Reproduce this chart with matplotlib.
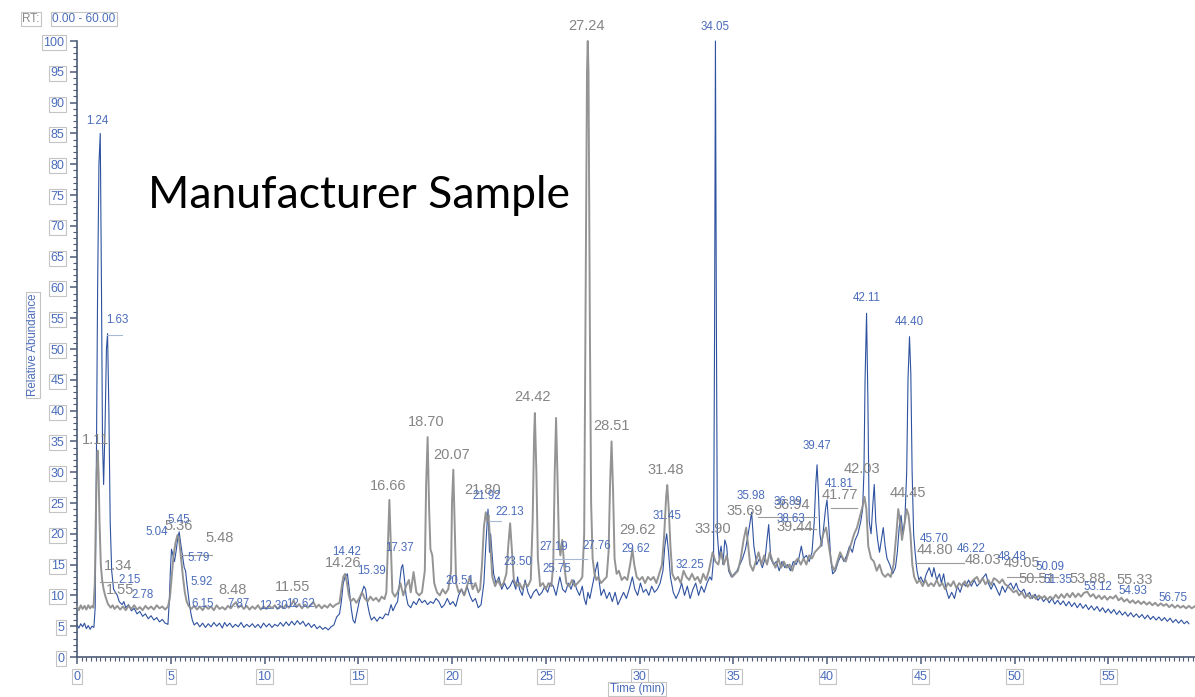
import matplotlib
matplotlib.use("Agg")
import matplotlib.pyplot as plt
import numpy as np
from matplotlib.ticker import MultipleLocator

# ---- data (time in min, relative abundance) ----
gray_trace = [
    (0.0, 8.2), (0.1, 7.6), (0.2, 8.4), (0.3, 7.8), (0.4, 8.3), (0.5, 7.7), (0.6, 8.4), (0.7, 7.9),
    (0.8, 8.3), (0.88, 8.0), (0.95, 12), (1.0, 22), (1.05, 30), (1.1, 33.5), (1.15, 30), (1.2, 22),
    (1.27, 15), (1.34, 12.5), (1.42, 11), (1.5, 10), (1.55, 9.5), (1.65, 8.6), (1.8, 8.0), (1.9, 8.4),
    (2.0, 7.8), (2.15, 8.3), (2.3, 7.7), (2.45, 8.2), (2.6, 7.6), (2.75, 8.3), (2.9, 7.8), (3.05, 8.4),
    (3.2, 7.7), (3.35, 8.1), (3.5, 7.6), (3.65, 8.3), (3.8, 7.8), (3.95, 8.2), (4.1, 7.7), (4.25, 8.4),
    (4.4, 7.9), (4.55, 8.2), (4.7, 7.7), (4.85, 8.2), (4.95, 9.5), (5.05, 13), (5.15, 16.5), (5.25, 18.5),
    (5.36, 19.8), (5.45, 19), (5.55, 16), (5.65, 13), (5.75, 10.5), (5.85, 9), (5.95, 8.3), (6.1, 7.8),
    (6.25, 8.3), (6.4, 7.7), (6.55, 8.2), (6.7, 7.6), (6.85, 8.3), (7.0, 7.8), (7.15, 8.2), (7.3, 7.6),
    (7.45, 8.4), (7.6, 7.8), (7.75, 8.1), (7.9, 7.7), (8.05, 8.3), (8.2, 7.9), (8.35, 8.5), (8.48, 8.9),
    (8.6, 8.0), (8.75, 8.4), (8.9, 7.8), (9.05, 8.3), (9.2, 7.7), (9.35, 8.2), (9.5, 7.8), (9.65, 8.4),
    (9.8, 7.7), (9.95, 8.2), (10.1, 7.8), (10.25, 8.3), (10.4, 7.9), (10.55, 8.4), (10.7, 7.8), (10.85, 8.3),
    (11.0, 7.9), (11.15, 8.5), (11.3, 8.0), (11.45, 8.6), (11.55, 9.2), (11.7, 8.1), (11.85, 8.6), (12.0, 7.9),
    (12.15, 8.5), (12.3, 8.0), (12.45, 8.4), (12.62, 8.9), (12.75, 8.0), (12.9, 8.5), (13.05, 7.9), (13.2, 8.4),
    (13.35, 8.0), (13.5, 8.6), (13.65, 8.1), (13.8, 8.5), (14.0, 8.8), (14.1, 11), (14.2, 13), (14.3, 13.5),
    (14.4, 12), (14.5, 10), (14.6, 9), (14.75, 9.5), (14.9, 8.8), (15.05, 9.5), (15.2, 10.5), (15.35, 9.5),
    (15.5, 9), (15.65, 9.8), (15.8, 9.2), (15.95, 9.6), (16.1, 9.0), (16.25, 9.8), (16.4, 9.4), (16.5, 10.5),
    (16.58, 18), (16.66, 25.5), (16.74, 18), (16.82, 10.5), (16.95, 9.8), (17.1, 10.5), (17.25, 12), (17.4, 10),
    (17.55, 11.5), (17.7, 12.5), (17.8, 10.5), (17.95, 13.8), (18.1, 10.5), (18.25, 10), (18.4, 10.5), (18.55, 14),
    (18.62, 28), (18.7, 35.7), (18.78, 24), (18.85, 17.5), (18.95, 16.5), (19.05, 12), (19.2, 10.5), (19.35, 10),
    (19.5, 11), (19.65, 10.3), (19.8, 11), (19.95, 14), (20.0, 25), (20.07, 30.4), (20.14, 22), (20.22, 12),
    (20.35, 10.5), (20.5, 11), (20.65, 10), (20.8, 11.5), (20.95, 13), (21.1, 11), (21.25, 12), (21.4, 10.5),
    (21.5, 11), (21.6, 15), (21.7, 21), (21.8, 23.5), (21.88, 22), (21.95, 23), (22.05, 18), (22.15, 13),
    (22.3, 11.5), (22.45, 12.5), (22.6, 11.5), (22.75, 12), (22.9, 13.5), (23.0, 18), (23.1, 21.7), (23.2, 17),
    (23.3, 12.5), (23.45, 11.5), (23.6, 12), (23.75, 11), (23.9, 12), (24.05, 11.5), (24.2, 12.5), (24.3, 22),
    (24.38, 36), (24.42, 39.6), (24.5, 30), (24.58, 16), (24.7, 11.5), (24.85, 12), (25.0, 11), (25.15, 12),
    (25.3, 11.5), (25.4, 15), (25.48, 30), (25.55, 38.8), (25.62, 30), (25.7, 19), (25.78, 16.5), (25.88, 19),
    (25.98, 15), (26.1, 12), (26.25, 11.5), (26.4, 12.5), (26.55, 11.5), (26.7, 12), (26.85, 12.5), (26.95, 13),
    (27.05, 20), (27.12, 55), (27.2, 95), (27.24, 100), (27.28, 95), (27.35, 55), (27.42, 25), (27.5, 16),
    (27.6, 13.5), (27.7, 12.5), (27.8, 13), (27.95, 12), (28.1, 12.5), (28.25, 13), (28.35, 17), (28.43, 28),
    (28.51, 35), (28.59, 27), (28.67, 16), (28.78, 13.5), (28.9, 14), (29.05, 12.5), (29.2, 13), (29.35, 12.5),
    (29.5, 15), (29.62, 17.5), (29.72, 15), (29.85, 13), (30.0, 12.5), (30.15, 13), (30.3, 12), (30.45, 13),
    (30.6, 12.5), (30.75, 13), (30.9, 12), (31.05, 13.5), (31.2, 15), (31.32, 20), (31.42, 26), (31.48, 27.9),
    (31.56, 24), (31.65, 18), (31.75, 13.5), (31.9, 12.5), (32.05, 13), (32.2, 12), (32.35, 14), (32.5, 13),
    (32.65, 12.5), (32.8, 13.5), (32.95, 12.5), (33.1, 13), (33.25, 12), (33.4, 13.5), (33.55, 12.5), (33.7, 14),
    (33.9, 17), (34.05, 15.5), (34.2, 15), (34.35, 17), (34.5, 15), (34.65, 16.5), (34.8, 14), (34.95, 13),
    (35.1, 13.5), (35.25, 14), (35.4, 16), (35.55, 19), (35.69, 21), (35.8, 18), (35.9, 15), (36.05, 14),
    (36.2, 15.5), (36.35, 17), (36.5, 15), (36.65, 16.5), (36.8, 15), (36.95, 17), (37.1, 15.5), (37.25, 14.5),
    (37.4, 16), (37.55, 14.5), (37.7, 15.5), (37.85, 14.5), (38.0, 15), (38.15, 14), (38.3, 15.5), (38.45, 16),
    (38.6, 15), (38.75, 16), (38.9, 15), (39.05, 16.5), (39.2, 16), (39.35, 17), (39.5, 17.5), (39.65, 18),
    (39.8, 20), (39.95, 21), (40.1, 18), (40.25, 15), (40.4, 14), (40.55, 15.5), (40.7, 17), (40.85, 16),
    (41.0, 15.5), (41.15, 17), (41.3, 18.5), (41.45, 20), (41.6, 21), (41.77, 23), (41.9, 24.5), (42.0, 26),
    (42.1, 24), (42.2, 18), (42.35, 16), (42.5, 15.5), (42.65, 14), (42.8, 15), (42.95, 13.5), (43.1, 13),
    (43.25, 13.5), (43.4, 13), (43.55, 15), (43.7, 20), (43.8, 24), (43.9, 22), (44.0, 19), (44.1, 21),
    (44.25, 24), (44.35, 23), (44.45, 20), (44.55, 15), (44.65, 13), (44.8, 12), (44.95, 12.5), (45.1, 11.5),
    (45.25, 12.5), (45.4, 11.5), (45.55, 12), (45.7, 11.5), (45.85, 12.5), (46.0, 11.5), (46.15, 12), (46.3, 11),
    (46.45, 12), (46.6, 11.5), (46.75, 12.3), (46.9, 11.2), (47.05, 12), (47.2, 11.5), (47.35, 12.3), (47.5, 11.4),
    (47.65, 12), (47.8, 12.5), (48.0, 13), (48.15, 12), (48.3, 12.8), (48.45, 11.8), (48.6, 12.5), (48.75, 11.7),
    (48.9, 12.8), (49.05, 12.5), (49.2, 12), (49.35, 12.6), (49.5, 11.8), (49.65, 11.5), (49.8, 11), (49.95, 10.5),
    (50.1, 10.8), (50.25, 10.0), (50.4, 10.5), (50.55, 9.6), (50.7, 10.2), (50.85, 9.5), (51.0, 10), (51.15, 9.4),
    (51.3, 10), (51.45, 9.5), (51.6, 9.9), (51.75, 9.3), (51.9, 9.8), (52.05, 9.4), (52.2, 10.1), (52.35, 9.5),
    (52.5, 10.2), (52.65, 9.6), (52.8, 10.3), (52.95, 9.7), (53.1, 10.4), (53.25, 9.7), (53.4, 10.3), (53.55, 9.8),
    (53.7, 10.4), (53.88, 10.6), (54.05, 9.8), (54.2, 10.2), (54.35, 9.5), (54.5, 10), (54.65, 9.4), (54.8, 9.9),
    (54.95, 9.3), (55.1, 9.8), (55.25, 9.5), (55.4, 10), (55.55, 9.2), (55.7, 9.6), (55.85, 9.0), (56.0, 9.4),
    (56.15, 8.8), (56.3, 9.2), (56.45, 8.7), (56.6, 9.1), (56.75, 8.6), (56.9, 9), (57.05, 8.5), (57.2, 8.9),
    (57.35, 8.4), (57.5, 8.8), (57.65, 8.3), (57.8, 8.7), (57.95, 8.3), (58.1, 8.6), (58.25, 8.1), (58.4, 8.5),
    (58.55, 8.0), (58.7, 8.4), (58.85, 8.0), (59.0, 8.3), (59.15, 7.9), (59.3, 8.3), (59.45, 7.9), (59.6, 8.2),
]

blue_trace = [
    (0.0, 5.2), (0.1, 4.7), (0.2, 5.4), (0.3, 4.9), (0.4, 5.5), (0.5, 4.6), (0.6, 5.1), (0.7, 4.5),
    (0.8, 5.0), (0.9, 4.8), (0.97, 8), (1.03, 30), (1.1, 60), (1.17, 80), (1.24, 85), (1.3, 62),
    (1.36, 35), (1.42, 28), (1.5, 38), (1.57, 50), (1.63, 52.5), (1.7, 40), (1.77, 22), (1.85, 14),
    (1.95, 11), (2.05, 10.5), (2.15, 10), (2.25, 9), (2.4, 8.5), (2.5, 9), (2.6, 8), (2.75, 8.5),
    (2.9, 7.5), (3.05, 7.9), (3.2, 7.0), (3.35, 7.4), (3.5, 6.6), (3.65, 7.0), (3.8, 6.2), (3.95, 6.7),
    (4.1, 6.0), (4.25, 6.4), (4.4, 5.7), (4.55, 6.1), (4.7, 5.5), (4.85, 5.3), (4.92, 9), (4.98, 14),
    (5.04, 17.5), (5.12, 16.5), (5.2, 15.5), (5.3, 17.5), (5.38, 19.5), (5.45, 20.3), (5.55, 18), (5.65, 16),
    (5.72, 14.5), (5.79, 14), (5.86, 12), (5.92, 10.5), (6.0, 8.5), (6.08, 7), (6.15, 6), (6.25, 5.2),
    (6.4, 5.6), (6.55, 4.9), (6.7, 5.5), (6.85, 4.8), (7.0, 5.4), (7.15, 4.9), (7.3, 5.6), (7.45, 5.0),
    (7.6, 5.5), (7.75, 4.7), (7.87, 5.6), (8.0, 5.0), (8.15, 5.5), (8.3, 4.8), (8.45, 5.3), (8.6, 4.9),
    (8.75, 5.6), (8.9, 4.8), (9.05, 5.3), (9.2, 4.9), (9.35, 5.4), (9.5, 4.8), (9.65, 5.3), (9.8, 4.7),
    (9.95, 5.5), (10.1, 4.9), (10.25, 5.4), (10.4, 4.8), (10.55, 5.3), (10.7, 5.0), (10.85, 5.6), (11.0, 5.0),
    (11.15, 5.7), (11.3, 5.1), (11.45, 5.8), (11.6, 5.2), (11.75, 5.9), (11.9, 5.3), (12.05, 5.8), (12.2, 5.0),
    (12.35, 5.5), (12.5, 4.8), (12.65, 5.3), (12.8, 4.6), (12.95, 5.0), (13.1, 4.5), (13.25, 4.8), (13.4, 4.4),
    (13.55, 4.9), (13.7, 5.2), (13.85, 6.5), (14.0, 7), (14.1, 9), (14.2, 12), (14.3, 13), (14.42, 13.5),
    (14.52, 11), (14.62, 8), (14.72, 6), (14.82, 5.5), (14.92, 7), (15.05, 9), (15.2, 10.5), (15.3, 11.5),
    (15.39, 11), (15.5, 8.5), (15.6, 7), (15.7, 6), (15.85, 6.5), (16.0, 5.8), (16.15, 6.5), (16.3, 6.2),
    (16.45, 7), (16.6, 6.8), (16.75, 8.5), (16.85, 7.5), (17.0, 8.5), (17.1, 9), (17.2, 12), (17.3, 14.5),
    (17.37, 15), (17.45, 13), (17.55, 10), (17.65, 8.5), (17.8, 8), (17.95, 9), (18.1, 8.5), (18.25, 9.5),
    (18.4, 8.8), (18.55, 9.2), (18.7, 8.5), (18.85, 9), (19.0, 8.7), (19.15, 9.5), (19.3, 9), (19.45, 8),
    (19.6, 8.5), (19.75, 9.5), (19.9, 8.5), (20.05, 9), (20.2, 8.2), (20.35, 10), (20.51, 11), (20.65, 10),
    (20.8, 11.5), (20.95, 10), (21.1, 9), (21.25, 9.5), (21.4, 8), (21.55, 8.5), (21.7, 12), (21.8, 18),
    (21.88, 22), (21.92, 24), (22.0, 17), (22.06, 20), (22.13, 17), (22.22, 13.5), (22.35, 12), (22.5, 13),
    (22.65, 11), (22.8, 12), (22.95, 11), (23.1, 11.5), (23.25, 12.5), (23.4, 11), (23.5, 13), (23.6, 11),
    (23.75, 10), (23.9, 12.5), (24.05, 10.5), (24.2, 9.5), (24.35, 10.5), (24.5, 11), (24.65, 10), (24.8, 10.5),
    (24.95, 11.5), (25.1, 10.5), (25.25, 12), (25.4, 11.5), (25.55, 10), (25.75, 13), (25.9, 11), (26.05, 10.5),
    (26.2, 12), (26.35, 11), (26.5, 12.5), (26.65, 11), (26.8, 10), (26.95, 11.5), (27.05, 9.5), (27.15, 8.5),
    (27.25, 10.5), (27.35, 9.5), (27.45, 11), (27.55, 12.5), (27.65, 14), (27.76, 15.4), (27.86, 12), (27.95, 10),
    (28.1, 11), (28.25, 9.5), (28.4, 10.5), (28.55, 9), (28.7, 10.5), (28.85, 8.5), (29.0, 9.5), (29.15, 10.5),
    (29.3, 9.5), (29.45, 11), (29.62, 13), (29.75, 11), (29.9, 10), (30.05, 12), (30.2, 10.5), (30.35, 11),
    (30.5, 10), (30.65, 11.5), (30.8, 10.5), (30.95, 11), (31.1, 12), (31.25, 14), (31.35, 18), (31.45, 20),
    (31.55, 17), (31.65, 13), (31.8, 10.5), (31.95, 9.5), (32.1, 10.5), (32.25, 12), (32.4, 10), (32.55, 11.5),
    (32.7, 9.5), (32.85, 11), (33.0, 12), (33.15, 10), (33.3, 11.5), (33.45, 10.5), (33.6, 12), (33.75, 13),
    (33.85, 12.5), (33.95, 16), (34.0, 50), (34.05, 100), (34.1, 55), (34.15, 20), (34.25, 16), (34.35, 18),
    (34.45, 15), (34.55, 19), (34.65, 18), (34.75, 14), (34.9, 13), (35.05, 13.5), (35.2, 14), (35.35, 15),
    (35.5, 16), (35.65, 17.5), (35.8, 20), (35.98, 23.5), (36.1, 18), (36.25, 15), (36.4, 16), (36.55, 14.5),
    (36.7, 16), (36.8, 19), (36.89, 21.5), (37.0, 16), (37.15, 15), (37.3, 15.5), (37.45, 14), (37.6, 15.5),
    (37.75, 14.5), (37.9, 15), (38.05, 14), (38.2, 15.5), (38.35, 15), (38.5, 16), (38.63, 18), (38.75, 16),
    (38.9, 16.5), (39.05, 15.5), (39.2, 17), (39.32, 22), (39.4, 28), (39.47, 31.2), (39.55, 26), (39.62, 20),
    (39.72, 18), (39.82, 21), (39.92, 24), (40.0, 25.5), (40.1, 21), (40.2, 16), (40.3, 13.5), (40.45, 14),
    (40.6, 15.5), (40.75, 16.5), (40.9, 15.5), (41.05, 16.5), (41.2, 18), (41.35, 17), (41.5, 19), (41.65, 20),
    (41.8, 22), (41.9, 24), (41.97, 30), (42.03, 45), (42.11, 55.8), (42.18, 42), (42.25, 22), (42.35, 20),
    (42.45, 25), (42.52, 28), (42.6, 22), (42.7, 19), (42.8, 17), (42.9, 19), (43.0, 21), (43.1, 18),
    (43.2, 16), (43.35, 15), (43.5, 13.5), (43.65, 14.5), (43.75, 17), (43.85, 21), (43.95, 23), (44.05, 20),
    (44.15, 22), (44.25, 30), (44.32, 45), (44.4, 52), (44.47, 46), (44.54, 30), (44.62, 20), (44.7, 17),
    (44.8, 14), (44.9, 12.5), (45.0, 13), (45.15, 12), (45.3, 13.5), (45.45, 14.5), (45.6, 13), (45.7, 14.5),
    (45.85, 12.5), (46.0, 13.5), (46.1, 12), (46.22, 13.5), (46.35, 11), (46.5, 9.5), (46.65, 10.5), (46.8, 9.5),
    (46.95, 11.5), (47.1, 10.5), (47.25, 12), (47.4, 11.5), (47.55, 12.5), (47.7, 11.5), (47.85, 12.5), (48.0, 11.5),
    (48.15, 12), (48.3, 12.8), (48.48, 13.5), (48.6, 12), (48.75, 11), (48.9, 12), (49.05, 11), (49.2, 10),
    (49.35, 11.5), (49.5, 10.5), (49.65, 11.5), (49.8, 12), (49.95, 11), (50.09, 12), (50.2, 11), (50.35, 10.5),
    (50.5, 11), (50.65, 9.8), (50.8, 10.5), (50.95, 9.5), (51.1, 10.2), (51.25, 9.2), (51.4, 9.8), (51.55, 9.0),
    (51.7, 9.6), (51.85, 8.8), (52.0, 9.5), (52.15, 8.6), (52.3, 9.2), (52.45, 8.5), (52.6, 9.1), (52.75, 8.3),
    (52.9, 9), (53.05, 8.2), (53.2, 8.8), (53.35, 8.0), (53.5, 8.7), (53.65, 7.9), (53.8, 8.5), (53.95, 7.7),
    (54.1, 8.3), (54.25, 7.6), (54.4, 8.2), (54.55, 7.4), (54.7, 8.0), (54.85, 7.2), (55.0, 7.8), (55.15, 7.1),
    (55.3, 7.7), (55.45, 6.9), (55.6, 7.5), (55.75, 6.8), (55.9, 7.3), (56.05, 6.6), (56.2, 7.2), (56.35, 6.5),
    (56.5, 7.0), (56.65, 6.4), (56.8, 6.9), (56.95, 6.2), (57.1, 6.8), (57.25, 6.1), (57.4, 6.6), (57.55, 6.0),
    (57.7, 6.5), (57.85, 5.9), (58.0, 6.4), (58.15, 5.8), (58.3, 6.3), (58.45, 5.6), (58.6, 6.1), (58.75, 5.5),
    (58.9, 6.0), (59.05, 5.4), (59.2, 5.8), (59.3, 5.4),
]

# peak labels: (text, time, abundance) where the label sits
gray_labels = [
    ("1.11", 1.0, 34.1), ("1.34", 2.2, 13.6), ("1.55", 2.3, 9.7), ("5.36", 5.4, 20.1), ("5.48", 7.6, 18.2),
    ("8.48", 8.3, 9.7), ("11.55", 11.5, 10.2), ("14.26", 14.2, 14.1), ("16.66", 16.6, 26.6),
    ("18.70", 18.6, 37.0), ("20.07", 20.0, 31.7), ("21.80", 21.65, 26.0), ("24.42", 24.3, 41.1),
    ("27.24", 27.15, 101.3), ("28.51", 28.5, 36.4), ("29.62", 29.9, 19.5), ("31.48", 31.4, 29.2),
    ("33.90", 33.9, 19.6), ("35.69", 35.6, 22.6), ("36.94", 38.1, 23.5), ("39.44", 38.3, 20.0),
    ("41.77", 40.7, 25.2), ("42.03", 41.85, 29.4), ("44.45", 44.3, 25.5), ("44.80", 45.75, 16.2),
    ("48.03", 48.3, 14.6), ("49.05", 50.4, 14.1), ("50.51", 51.2, 11.5), ("53.88", 53.9, 11.5),
    ("55.33", 56.4, 11.4),
]
blue_labels = [
    ("1.24", 1.1, 86.0), ("1.63", 2.15, 53.7), ("2.15", 2.8, 11.5), ("2.78", 3.5, 9.1), ("5.04", 4.25, 19.3),
    ("5.45", 5.45, 21.3), ("5.79", 6.5, 15.1), ("5.92", 6.65, 11.2), ("6.15", 6.7, 7.6), ("7.87", 8.6, 7.6),
    ("12.30", 10.5, 7.3), ("12.62", 11.9, 7.6), ("14.42", 14.4, 16.1), ("15.39", 15.7, 13.0),
    ("17.37", 17.2, 16.7), ("20.51", 20.4, 11.4), ("21.92", 21.85, 25.1), ("22.13", 23.1, 22.6),
    ("23.50", 23.5, 14.4), ("25.75", 25.6, 13.3), ("27.19", 25.4, 16.9), ("27.76", 27.7, 17.0),
    ("29.62", 29.8, 16.6), ("31.45", 31.45, 21.9), ("32.25", 32.7, 14.0), ("34.05", 34.05, 101.3),
    ("35.98", 35.95, 25.2), ("36.89", 37.9, 24.2), ("38.63", 38.1, 21.4), ("39.47", 39.45, 33.3),
    ("41.81", 40.65, 27.1), ("42.11", 42.1, 57.3), ("44.40", 44.4, 53.4), ("45.70", 45.7, 18.2),
    ("46.22", 47.7, 16.6), ("48.48", 49.9, 15.3), ("50.09", 51.9, 13.6), ("51.35", 52.3, 11.5),
    ("53.12", 54.45, 10.4), ("54.93", 56.3, 9.7), ("56.75", 58.45, 8.6),
]
# leader lines from a peak to its label: (t_start, t_end, abundance)
gray_leaders = [(1.25, 2.15, 12.2), (5.55, 7.2, 16.6), (36.3, 39.4, 22.7), (38.2, 39.4, 20.8),
                (40.2, 41.6, 24.2), (44.7, 47.3, 15.3), (49.6, 52.3, 13.0)]
blue_leaders = [(1.6, 2.4, 52.2), (25.4, 27.2, 15.9), (21.95, 22.6, 22.0)]

GRAY = "#8e8e8e"
BLUE = "#2f52a0"
LBLUE = "#4a6cba"
BOX_EC = "#c4c4c4"

W, H = 1195, 697
fig = plt.figure(figsize=(W / 100, H / 100), dpi=100)
fig.patch.set_facecolor("white")
# axis 0..60 min spans px 77..1202 (cut at the right edge), 0..100 spans px 657..41
ax = fig.add_axes([77 / W, 40 / H, 1125 / W, 616 / H])
ax.set_xlim(0, 60)
ax.set_ylim(0, 100)

gt, gv = zip(*gray_trace)
bt, bv = zip(*blue_trace)
ax.plot(bt, bv, color=BLUE, lw=0.8, zorder=2, clip_on=False)
ax.plot(gt, gv, color=GRAY, lw=1.4, zorder=3, clip_on=False, alpha=0.95)

for (t0, t1, v) in gray_leaders:
    ax.plot([t0, t1], [v, v], color="#9a9a9a", lw=0.8, zorder=4)
for (t0, t1, v) in blue_leaders:
    ax.plot([t0, t1], [v, v], color="#a9b7d6", lw=0.8, zorder=4)

for txt, t, v in gray_labels:
    ax.text(t, v, txt, color="#858585", fontsize=10.5, family="Liberation Sans",
            ha="center", va="bottom", zorder=5, clip_on=False)
for txt, t, v in blue_labels:
    ax.text(t, v, txt, color=LBLUE, fontsize=8.3, family="Liberation Sans",
            ha="center", va="bottom", zorder=6, clip_on=False)

# axes look
for s in ("top", "right"):
    ax.spines[s].set_visible(False)
for s in ("left", "bottom"):
    ax.spines[s].set_color("#4d5b78")
    ax.spines[s].set_linewidth(1.2)
ax.yaxis.set_major_locator(MultipleLocator(5))
ax.yaxis.set_minor_locator(MultipleLocator(1))
ax.xaxis.set_major_locator(MultipleLocator(5))
ax.xaxis.set_minor_locator(MultipleLocator(0.25))
ax.tick_params(axis="both", which="major", direction="out", length=5, width=1.1,
               color="#4d5b78", labelcolor=LBLUE, labelsize=9)
ax.tick_params(axis="both", which="minor", direction="out", length=3, width=0.8, color="#4d5b78")
ax.tick_params(axis="y", pad=4)
ax.tick_params(axis="x", pad=5)
ax.set_xticks(np.arange(0, 60, 5))
ax.set_yticks(np.arange(0, 101, 5))
box = dict(boxstyle="square,pad=0.12", fc="white", ec=BOX_EC, lw=0.8)
for lab in ax.get_yticklabels() + ax.get_xticklabels():
    lab.set_family("Liberation Sans")
    lab.set_bbox(box)

# labels / title texts
fig.text(33 / W, 1 - 345 / H, "Relative Abundance", rotation=90, color=LBLUE, fontsize=8.3,
         family="Liberation Sans", ha="center", va="center", bbox=box)
fig.text(637 / W, 1 - 689 / H, "Time (min)", color=LBLUE, fontsize=8.3, family="Liberation Sans",
         ha="center", va="center", bbox=box)
fig.text(22 / W, 1 - 19 / H, "RT:", color="#8a8a8a", fontsize=8.5, family="Liberation Sans",
         ha="left", va="center", bbox=box)
fig.text(52 / W, 1 - 19 / H, "0.00 - 60.00", color=LBLUE, fontsize=8.5, family="Liberation Sans",
         ha="left", va="center", bbox=box)
fig.text(148 / W, 1 - 208 / H, "Manufacturer Sample", color="black", fontsize=32, family="Lato",
         ha="left", va="baseline")

fig.savefig("out.png", dpi=100)
